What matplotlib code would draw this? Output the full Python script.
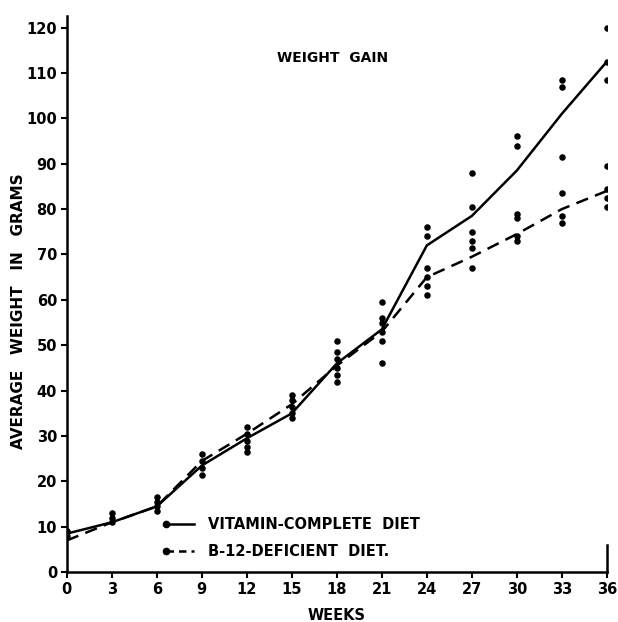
import numpy as np
import matplotlib
matplotlib.use('Agg')
import matplotlib.pyplot as plt
from matplotlib.lines import Line2D
from matplotlib.legend_handler import HandlerLine2D

# weeks on the x axis
weeks = [0, 3, 6, 9, 12, 15, 18, 21, 24, 27, 30, 33, 36]

# average curves
complete_diet = [8.5, 11, 14.5, 23.5, 29.5, 35, 46, 53.5, 72, 78.5, 88.5, 101, 112.5]
b12_deficient = [7, 11, 14.5, 24.5, 30.5, 37, 45.5, 53, 65, 69.5, 74.5, 80, 84]

# individual weighings, one list per week
points_w0 = [9, 8]
points_w3 = [13, 12, 11]
points_w6 = [16.5, 15.5, 14.5, 13.5]
points_w9 = [26, 24.5, 23, 21.5]
points_w12 = [32, 30.5, 29, 27.5, 26.5]
points_w15 = [39, 38, 36.5, 35, 34]
points_w18 = [51, 48.5, 47, 45, 43.5, 42]
points_w21 = [59.5, 56, 55, 53, 51, 46]
points_w24 = [76, 74, 67, 65, 63, 61]
points_w27 = [88, 80.5, 75, 73, 71.5, 67]
points_w30 = [96, 94, 79, 78, 74, 73]
points_w33 = [108.5, 107, 91.5, 83.5, 78.5, 77]
points_w36 = [120, 112.5, 108.5, 89.5, 84.5, 82.5, 80.5]

all_points = [points_w0, points_w3, points_w6, points_w9, points_w12, points_w15,
              points_w18, points_w21, points_w24, points_w27, points_w30,
              points_w33, points_w36]

y_ticks = list(range(0, 121, 10))


class StartDotHandler(HandlerLine2D):
    # legend key with the dot at the left end of the line
    def create_artists(self, *args, **kwargs):
        artists = super().create_artists(*args, **kwargs)
        for a in artists:
            a.set_markevery([0])
        return artists


plt.rcParams['font.family'] = ['DejaVu Sans']
plt.rcParams['font.weight'] = 'bold'

fig = plt.figure(figsize=(6.18, 6.22), dpi=100)
ax = fig.add_axes([0.108, 0.080, 0.874, 0.894])

# scatter of the individual animals
for wk, vals in zip(weeks, all_points):
    ax.scatter([wk] * len(vals), vals, s=22, color='black', zorder=3, linewidths=0)

ax.plot(weeks, complete_diet, color='black', lw=1.8, solid_capstyle='round')
ax.plot(weeks, b12_deficient, color='black', lw=1.8, linestyle=(0, (5, 3)))

ax.set_xlim(0, 36)
ax.set_ylim(0, 122.5)
ax.set_xticks(weeks)
ax.set_yticks(y_ticks)
ax.tick_params(axis='both', direction='out', length=4, width=1.5, labelsize=10.5, pad=3)

ax.spines['top'].set_visible(False)
ax.spines['right'].set_bounds(0, 6)
for side in ['left', 'bottom', 'right']:
    ax.spines[side].set_linewidth(1.8)

ax.set_xlabel('WEEKS', fontsize=10.5, fontweight='bold', labelpad=8)
ax.set_ylabel('AVERAGE   WEIGHT   IN   GRAMS', fontsize=11, fontweight='bold')
ax.yaxis.set_label_coords(-0.075, 0.47)

ax.text(17.7, 113.2, 'WEIGHT  GAIN', fontsize=10, fontweight='bold', ha='center', va='center')

handles = [
    Line2D([], [], color='black', lw=1.8, marker='o', markersize=4.5),
    Line2D([], [], color='black', lw=1.8, linestyle=(0, (3, 2)), marker='o', markersize=4.5),
]
labels = ['VITAMIN-COMPLETE  DIET', 'B-12-DEFICIENT  DIET.']
ax.legend(handles, labels, loc='upper left', bbox_to_anchor=(0.162, 0.113),
          frameon=False, borderpad=0, handlelength=2.5, handletextpad=0.7,
          labelspacing=0.85, prop={'weight': 'bold', 'size': 10.5},
          handler_map={Line2D: StartDotHandler(numpoints=2)})

fig.savefig('out.png', dpi=100)
